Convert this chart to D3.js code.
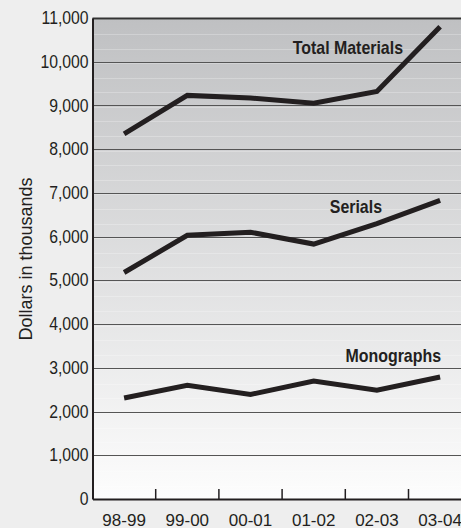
<!DOCTYPE html>
<html>
<head>
<meta charset="utf-8">
<script src="https://cdn.jsdelivr.net/npm/d3@7"></script>
<style>
  body { margin: 0; background: #eeeeee; }
  svg { display: block; }
</style>
</head>
<body>
<svg></svg>
<script>
var years = ['98-99', '99-00', '00-01', '01-02', '02-03', '03-04'];
var totalMaterials = [8350, 9230, 9170, 9050, 9320, 10800];
var serials = [5180, 6030, 6100, 5830, 6300, 6830];
var monographs = [2310, 2600, 2390, 2700, 2490, 2790];
var yTicks = [0, 1000, 2000, 3000, 4000, 5000, 6000, 7000, 8000, 9000, 10000, 11000];

var series = [
  {name: 'Total Materials', values: totalMaterials},
  {name: 'Serials', values: serials},
  {name: 'Monographs', values: monographs}
];

var svgWidth = 461, svgHeight = 528;
var margin = {left: 92.5, top: 18, bottom: 29};
var ink = '#231f20';
var font = '"Liberation Sans", Arial, sans-serif';

var svg = d3.select('svg')
  .attr('width', svgWidth)
  .attr('height', svgHeight);

var x = d3.scaleBand()
  .domain(years)
  .range([margin.left, margin.left + 6 * 63.2]);

var y = d3.scaleLinear()
  .domain([0, 11000])
  .range([svgHeight - margin.bottom, margin.top]);

// background gradient, grey at the top to white at the bottom
var grad = svg.append('defs').append('linearGradient')
  .attr('id', 'bg')
  .attr('x1', 0).attr('y1', 0).attr('x2', 0).attr('y2', 1);
grad.append('stop').attr('offset', 0).attr('stop-color', '#bfc0c2');
grad.append('stop').attr('offset', 1).attr('stop-color', '#fdfdfd');

svg.append('rect')
  .attr('x', margin.left)
  .attr('y', y(11000))
  .attr('width', svgWidth - margin.left)
  .attr('height', y(0) - y(11000))
  .attr('fill', 'url(#bg)');

// faint banding of the stepped gradient
svg.append('g')
  .selectAll('line')
  .data(d3.range(300, 11000, 1000 / 3))
  .enter()
  .append('line')
  .attr('x1', margin.left)
  .attr('x2', svgWidth)
  .attr('y1', d => Math.round(y(d)) + 0.5)
  .attr('y2', d => Math.round(y(d)) + 0.5)
  .attr('stroke', '#fff')
  .attr('stroke-opacity', 0.25);

// grid lines
svg.append('g')
  .selectAll('line')
  .data(yTicks.slice(1))
  .enter()
  .append('line')
  .attr('x1', margin.left)
  .attr('x2', svgWidth)
  .attr('y1', d => Math.round(y(d)) + 0.5)
  .attr('y2', d => Math.round(y(d)) + 0.5)
  .attr('stroke', d => d == 11000 ? '#333' : '#555')
  .attr('stroke-width', d => d == 11000 ? 2 : 1.2);

// y axis
var yAxis = d3.axisLeft(y)
  .tickValues(yTicks)
  .tickSize(0)
  .tickPadding(0)
  .tickFormat(d3.format(','));

var yg = svg.append('g')
  .attr('transform', 'translate(' + margin.left + ',0)')
  .call(yAxis);
yg.select('.domain').attr('stroke', ink).attr('stroke-width', 2);
yg.selectAll('text')
  .attr('x', 0)
  .attr('transform', 'translate(-4,0)scale(0.9,1)')
  .attr('font-family', font)
  .attr('font-size', '17.5px')
  .attr('fill', ink);

// x axis, ticks point up into the plot
var xAxis = d3.axisBottom(x)
  .tickSize(0)
  .tickPadding(15);

var xg = svg.append('g')
  .attr('transform', 'translate(0,' + y(0) + ')')
  .call(xAxis);
xg.select('.domain').attr('stroke', ink).attr('stroke-width', 2);
xg.selectAll('text')
  .attr('font-family', font)
  .attr('font-size', '17px')
  .attr('fill', ink);

svg.append('g')
  .selectAll('line')
  .data(years.slice(1))
  .enter()
  .append('line')
  .attr('x1', d => x(d))
  .attr('x2', d => x(d))
  .attr('y1', y(0))
  .attr('y2', y(0) - 10)
  .attr('stroke', ink)
  .attr('stroke-width', 1.5);

// lines
var line = d3.line()
  .x((d, i) => x(years[i]) + x.bandwidth() / 2)
  .y(d => y(d));

svg.append('g')
  .selectAll('path')
  .data(series)
  .enter()
  .append('path')
  .attr('d', d => line(d.values))
  .attr('fill', 'none')
  .attr('stroke', ink)
  .attr('stroke-width', 5);

// series labels
var labels = [
  {text: 'Total Materials', x: 403, y: 54},
  {text: 'Serials', x: 382, y: 213},
  {text: 'Monographs', x: 441, y: 362}
];
svg.append('g')
  .selectAll('text')
  .data(labels)
  .enter()
  .append('text')
  .attr('transform', d => 'translate(' + d.x + ',' + d.y + ')scale(0.885,1)')
  .attr('text-anchor', 'end')
  .attr('font-family', font)
  .attr('font-weight', 'bold')
  .attr('font-size', '18px')
  .attr('fill', ink)
  .text(d => d.text);

// axis title
svg.append('text')
  .attr('transform', 'translate(32,259)rotate(-90)')
  .attr('text-anchor', 'middle')
  .attr('font-family', font)
  .attr('font-size', '18px')
  .attr('fill', ink)
  .text('Dollars in thousands');
</script>
</body>
</html>
